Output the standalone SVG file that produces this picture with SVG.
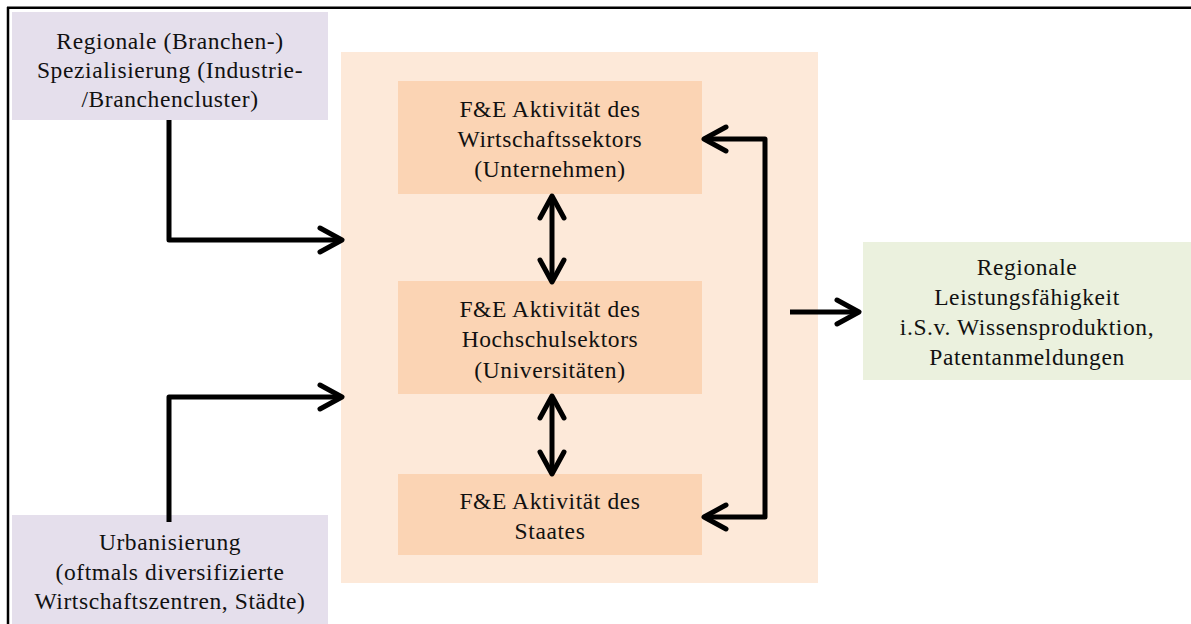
<svg xmlns="http://www.w3.org/2000/svg" width="1191" height="624" viewBox="0 0 1191 624">
  <style>
    .lbl { font-family: "Liberation Serif", "Times New Roman", serif; font-size: 23.5px; letter-spacing: 0.6px; fill: #111; text-anchor: middle; }
    .factor { fill: #E5DFEC; }
    .outer { fill: #FDE9D9; }
    .actor { fill: #FBD4B4; }
    .result { fill: #EBF1DE; }
    .conn { fill: none; stroke: #000; stroke-width: 5; stroke-linejoin: round; }
  </style>
  <defs>
    <marker id="head" markerUnits="userSpaceOnUse" viewBox="-30 -16 34 32" refX="0" refY="0" markerWidth="34" markerHeight="32" orient="auto-start-reverse">
      <path d="M -22 -12 L 0 0 L -22 12" fill="none" stroke="#000" stroke-width="5" stroke-linecap="round" stroke-linejoin="round"/>
    </marker>
  </defs>

  <rect width="1191" height="624" fill="#fff"/>

  <!-- frame -->
  <g id="frame" stroke="#000" stroke-width="2.5">
    <line x1="7" y1="7.8" x2="1191" y2="7.8"/>
    <line x1="8" y1="7" x2="8" y2="624"/>
  </g>

  <!-- R&D container -->
  <g id="fue-bereich">
    <rect class="outer" x="341" y="52" width="477" height="531"/>
  </g>

  <g id="spezialisierung">
    <rect class="factor" x="12" y="12" width="316" height="108"/>
    <text class="lbl" x="170" y="49">Regionale (Branchen-)</text>
    <text class="lbl" x="170" y="78">Spezialisierung (Industrie-</text>
    <text class="lbl" x="170" y="107">/Branchencluster)</text>
  </g>

  <g id="urbanisierung">
    <rect class="factor" x="12" y="515" width="316" height="109"/>
    <text class="lbl" x="170" y="550">Urbanisierung</text>
    <text class="lbl" x="170" y="580">(oftmals diversifizierte</text>
    <text class="lbl" x="170" y="609">Wirtschaftszentren, Städte)</text>
  </g>

  <g id="wirtschaft">
    <rect class="actor" x="398" y="81" width="304" height="113"/>
    <text class="lbl" x="550" y="117">F&amp;E Aktivität des</text>
    <text class="lbl" x="550" y="147">Wirtschaftssektors</text>
    <text class="lbl" x="550" y="177">(Unternehmen)</text>
  </g>

  <g id="hochschule">
    <rect class="actor" x="398" y="281" width="304" height="113"/>
    <text class="lbl" x="550" y="317">F&amp;E Aktivität des</text>
    <text class="lbl" x="550" y="347">Hochschulsektors</text>
    <text class="lbl" x="550" y="378">(Universitäten)</text>
  </g>

  <g id="staat">
    <rect class="actor" x="398" y="474" width="304" height="81"/>
    <text class="lbl" x="550" y="509">F&amp;E Aktivität des</text>
    <text class="lbl" x="550" y="539">Staates</text>
  </g>

  <g id="leistung">
    <rect class="result" x="863" y="242" width="328" height="138"/>
    <text class="lbl" x="1027" y="275">Regionale</text>
    <text class="lbl" x="1027" y="305">Leistungsfähigkeit</text>
    <text class="lbl" x="1027" y="335">i.S.v. Wissensproduktion,</text>
    <text class="lbl" x="1027" y="365">Patentanmeldungen</text>
  </g>

  <g id="connectors">
    <path class="conn" d="M169 120 V240 H342" marker-end="url(#head)"/>
    <path class="conn" d="M169 522 V397 H342" marker-end="url(#head)"/>
    <path class="conn" d="M552 196 V282" marker-start="url(#head)" marker-end="url(#head)"/>
    <path class="conn" d="M552 396 V474" marker-start="url(#head)" marker-end="url(#head)"/>
    <path class="conn" d="M704 139 H765 V517 H704" marker-start="url(#head)" marker-end="url(#head)"/>
    <path class="conn" d="M790 312 H859" marker-end="url(#head)"/>
  </g>
</svg>
